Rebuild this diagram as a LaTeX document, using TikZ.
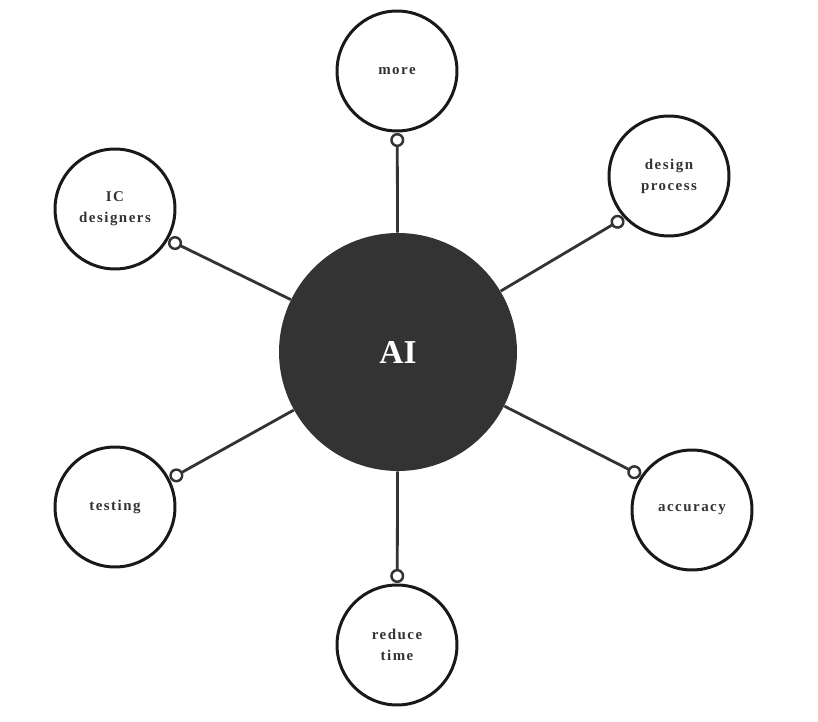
\documentclass[tikz,border=0pt]{standalone}
\usepackage{xcolor}
\usepackage{fontspec}
\setmainfont{Liberation Serif}
\newfontfamily\spacedfont[LetterSpace=10]{Liberation Serif}
\usepackage{tikz}
\usetikzlibrary{arrows.meta, positioning}
\definecolor{hubgray}{HTML}{333333}

\begin{document}
\begin{tikzpicture}[
        x=0.02cm, y=-0.02cm,
        hub/.style={circle, fill=hubgray, minimum size=4.76cm, inner sep=0pt, text=white, font=\bfseries\fontsize{19}{22}\selectfont},
        topic/.style={circle, draw=black!90, fill=white, line width=1.7pt, minimum size=2.4cm, inner sep=0pt, align=center, text=hubgray, font=\spacedfont\bfseries\fontsize{8.5}{12}\selectfont},
        link/.style={draw=hubgray, line width=1.6pt, -{Circle[open, length=8pt, line width=1.4pt]}, shorten >=0.3pt}
    ]
    \useasboundingbox (0,0) rectangle (818,722);

    % Centre
    \node[hub] (ai) at (398,352) {AI};

    % Topics
    \node[topic] (more) at (397,71) {more};
    \node[topic] (design) at (669,176) {design\\process};
    \node[topic] (ic) at (115,209) {IC\\designers};
    \node[topic] (testing) at (115,507) {testing};
    \node[topic] (accuracy) at (692,510) {accuracy};
    \node[topic] (reduce) at (397,645) {reduce\\time};

    % Links
    \draw[link] (ai) -- (more);
    \draw[link] (ai) -- (design.223);
    \draw[link] (ai) -- (ic.330);
    \draw[link] (ai) -- (testing.27);
    \draw[link] (ai) -- (accuracy.146);
    \draw[link] (ai) -- (reduce);

\end{tikzpicture}
\end{document}
